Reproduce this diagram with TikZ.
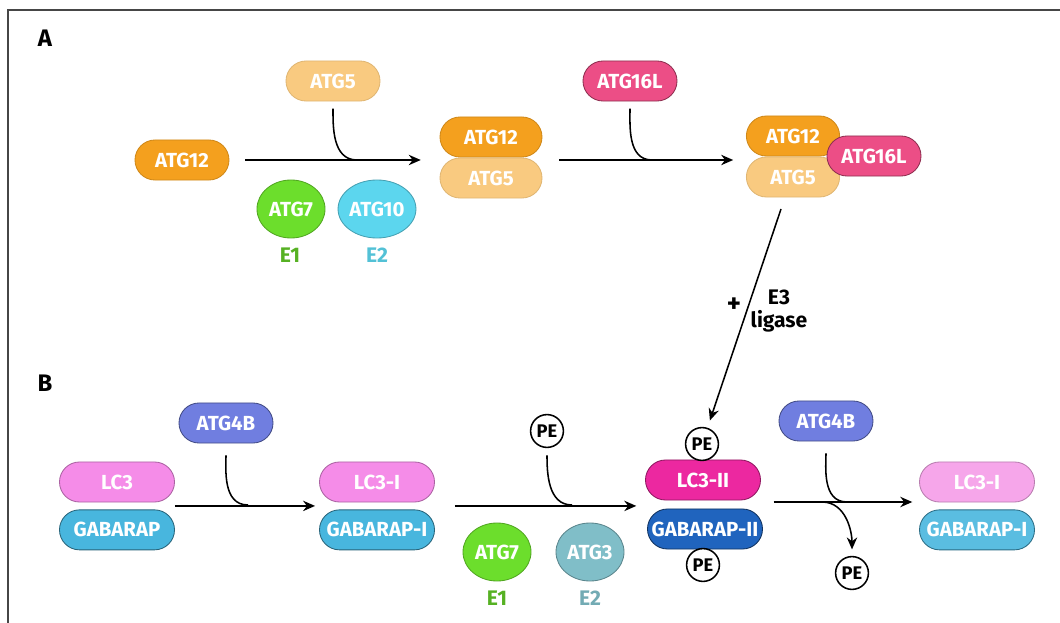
\documentclass[tikz,border=0pt]{standalone}
\usepackage{fontspec}
\setmainfont{Fira Sans}
\usetikzlibrary{arrows.meta,positioning,shapes.misc,shapes.geometric,calc}
\definecolor{atgorange}{RGB}{244,160,30}
\definecolor{atglight}{RGB}{249,202,128}
\definecolor{atgpink}{RGB}{236,78,134}
\definecolor{atggreen}{RGB}{108,222,44}
\definecolor{atgcyan}{RGB}{92,214,238}
\definecolor{atgblue}{RGB}{112,126,224}
\definecolor{lcviolet}{RGB}{245,140,232}
\definecolor{lcfaded}{RGB}{246,166,234}
\definecolor{gabsky}{RGB}{72,182,222}
\definecolor{lcmagenta}{RGB}{236,40,160}
\definecolor{gabnavy}{RGB}{32,100,190}
\definecolor{atgteal}{RGB}{128,190,200}
\definecolor{framegray}{RGB}{70,70,70}
\tikzset{
	pill/.style={
		rounded rectangle, minimum width=2.35cm, minimum height=1cm, inner sep=0pt,
		text=white, line width=0.6pt, font=\fontsize{14.5}{16}\selectfont\bfseries
	},
	%
	widepill/.style={pill, minimum width=2.875cm},
	%
	enzyme/.style={
		ellipse, minimum width=1.7cm, minimum height=1.45cm, inner sep=0pt,
		text=white, line width=0.6pt, font=\fontsize{14.5}{16}\selectfont\bfseries
	},
	%
	lipid/.style={
		circle, draw, fill=white, line width=1.1pt, minimum size=0.82cm, inner sep=0pt,
		font=\fontsize{13}{14}\selectfont\bfseries
	},
	%
	tag/.style={font=\fontsize{15}{17}\selectfont\bfseries, inner sep=0pt, align=center},
	panel/.style={font=\fontsize{17}{19}\selectfont\bfseries, inner sep=0pt},
	react/.style={line width=1.1pt, -{Stealth[length=0.3cm,width=0.26cm]}},
	merge/.style={line width=1.1pt}
}
\begin{document}
\begin{tikzpicture}[x=0.025cm,y=-0.025cm]
\useasboundingbox (0,0) rectangle (1060,623);
\draw[framegray, line width=0.9pt] (8,623) -- (8,10) -- (1060,10);

%panel A
\node (labA) [panel] at (45,38) {A};
\node (atgtwelve) [pill, fill=atgorange, draw=atgorange!85!black] at (182,160) {ATG12};
\node (atgfivetop) [pill, fill=atglight, draw=atglight!90!black] at (333,81) {ATG5};
\node (atgsevena) [enzyme, fill=atggreen, draw=atggreen!75!black] at (291,209) {ATG7};
\node (atgten) [enzyme, fill=atgcyan, draw=atgcyan!75!black] at (377,209) {ATG10};
\node (eonea) [tag, text=atggreen!80!black] at (290,255) {E1};
\node (etwoa) [tag, text=atgcyan!90!black] at (377,255) {E2};

\node (atgfiveb) [pill, minimum width=2.55cm, fill=atglight, draw=atglight!90!black] at (491,178) {ATG5};
\node (atgtwelveb) [pill, minimum width=2.55cm, fill=atgorange, draw=atgorange!85!black] at (491,137) {ATG12};

\node (atgsixtop) [pill, fill=atgpink, draw=atgpink!60!black] at (630,81) {ATG16L};
\node (atgfivec) [pill, minimum width=2.33cm, fill=atglight, draw=atglight!90!black] at (793,177) {ATG5};
\node (atgtwelvec) [pill, minimum width=2.33cm, fill=atgorange, draw=atgorange!85!black] at (793,136) {ATG12};
\node (atgsixc) [pill, fill=atgpink, draw=atgpink!60!black] at (874,156) {ATG16L};

\coordinate (joinA) at (357,160);
\coordinate (joinAb) at (652,160);
\coordinate (ethreetop) at (781,209);

%arrows A
\draw[react, shorten <=0.4cm, shorten >=0.47cm] (atgtwelve.east) -- (atgtwelve.east -| atgtwelveb.west);
\draw[merge, shorten <=0.18cm] (atgfivetop.south) to[out=-90,in=180] (joinA);
\draw[react, shorten <=0.42cm, shorten >=0.32cm] (atgtwelve.east -| atgtwelveb.east) -- (atgtwelve.east -| atgtwelvec.west);
\draw[merge, shorten <=0.18cm] (atgsixtop.south) to[out=-90,in=180] (joinAb);

%panel B
\node (labB) [panel] at (45,383) {B};
\node (lcthree) [widepill, fill=lcviolet, draw=lcviolet!70!black] at (117,482) {LC3};
\node (gabarap) [widepill, fill=gabsky, draw=gabsky!55!black, below=0.175cm of lcthree] {GABARAP};
\node (atgfourb) [pill, fill=atgblue, draw=atgblue!60!black] at (226,423) {ATG4B};
\node (lcthreei) [widepill, fill=lcviolet, draw=lcviolet!70!black] at (377,482) {LC3-I};
\node (gabarapi) [widepill, fill=gabsky, draw=gabsky!55!black, below=0.175cm of lcthreei] {GABARAP-I};

\node (pein) [lipid] at (547,431) {PE};
\node (atgsevenb) [enzyme, fill=atggreen, draw=atggreen!75!black] at (497,552) {ATG7};
\node (atgthree) [enzyme, fill=atgteal, draw=atgteal!70!black] at (590,552) {ATG3};
\node (eoneb) [tag, text=atggreen!80!black] at (497,598) {E1};
\node (etwob) [tag, text=atgteal!90!black] at (590,598) {E2};

\node (lcthreeii) [widepill, fill=lcmagenta, draw=lcmagenta!60!black] at (703,480) {LC3-II};
\node (gabarapii) [widepill, fill=gabnavy, draw=gabnavy!50!black] at (705,529) {GABARAP-II};
\node (pelc) [lipid] at (702,444) {PE};
\node (pegab) [lipid] at (703,565) {PE};

\node (atgfourc) [pill, fill=atgblue, draw=atgblue!60!black] at (826,421) {ATG4B};
\node (pefree) [lipid] at (852,573) {PE};
\node (lcthreer) [widepill, fill=lcfaded, draw=lcfaded!75!black] at (977,482) {LC3-I};
\node (gabarapr) [widepill, fill=gabsky!90!white, draw=gabsky!60!black, below=0.175cm of lcthreer] {GABARAP-I};

\node (plus) [tag, font=\fontsize{19}{19}\selectfont\bfseries] at (734,305) {+};
\node (ethree) [tag] at (779,311) {E3\\ligase};

\coordinate (midLC) at ($(lcthree.east)!0.5!(gabarap.east)$);
\coordinate (midLCi) at ($(lcthreei.east)!0.5!(gabarapi.east)$);
\coordinate (joinB) at (248,505);
\coordinate (joinBb) at (572,505);
\coordinate (joinBc) at (847,502);
\coordinate (splitB) at (822,502);

%arrows B
\draw[react, shorten >=0.1cm] (midLC) -- (midLC -| lcthreei.west);
\draw[merge, shorten <=0.3cm] (atgfourb.south) to[out=-90,in=180] (joinB);
\draw[react, shorten <=0.5cm, shorten >=0.22cm] (midLCi) -- (midLCi -| lcthreeii.west);
\draw[merge, shorten <=0.18cm] (pein.south) to[out=-90,in=180] (joinBb);
\draw[react, shorten <=0.32cm, shorten >=0.17cm] (lcthreeii.east |- splitB) -- (lcthreer.west |- splitB);
\draw[merge, shorten <=0.3cm] (atgfourc.south) to[out=-90,in=180] (joinBc);
\draw[react, shorten >=0.16cm] (splitB) to[out=0,in=90] (pefree.north);
\draw[react, shorten >=0.19cm] (ethreetop) -- (pelc);

\end{tikzpicture}
\end{document}
